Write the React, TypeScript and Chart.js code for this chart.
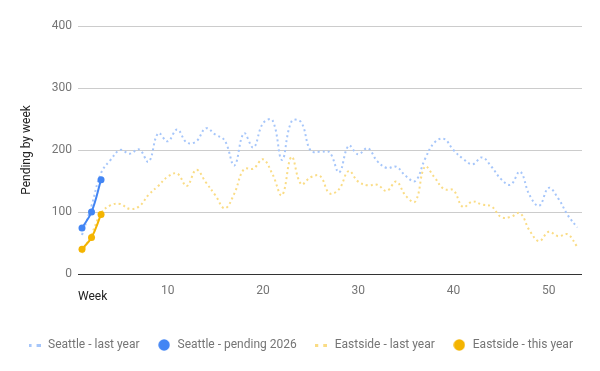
import React, { useEffect, useRef } from "react";
import { Chart, registerables } from "chart.js";

Chart.register(...registerables);

const weeks = [1,2,3,4,5,6,7,8,9,10,11,12,13,14,15,16,17,18,19,20,21,22,23,24,25,26,27,28,29,30,31,32,33,34,35,36,37,38,39,40,41,42,43,44,45,46,47,48,49,50,51,52,53];
const seattleLastYear = [63,110,163,184,200,194,201,181,227,214,233,212,214,235,225,215,175,227,204,243,248,184,246,245,199,197,196,164,207,193,203,182,171,173,158,150,185,212,218,200,186,177,188,173,153,144,165,127,110,139,122,95,75];
const seattle2026 = [74,100,152];
const eastsideLastYear = [34,64,98,111,113,105,109,128,142,157,162,142,168,148,127,106,130,169,170,185,161,127,189,145,156,158,130,137,166,149,143,144,134,149,126,117,173,156,137,135,108,117,112,109,92,92,98,70,53,68,61,64,44];
const eastsideThisYear = [40,59,96];
const xTicks = [10,20,30,40,50];
const yTicks = [0,100,200,300,400];
const seriesNames = ["Seattle - last year", "Seattle - pending 2026", "Eastside - last year", "Eastside - this year"];

const BLUE = "#4285f4";
const BLUE_LIGHT = "#a6c6fa";
const YELLOW = "#f4b400";
const YELLOW_LIGHT = "#fadc85";

function pts(vals: number[]) {
  return vals.map((v, i) => ({ x: weeks[i], y: v }));
}

function dotIcon(color: string) {
  const c = document.createElement("canvas");
  c.width = 12;
  c.height = 3;
  const g = c.getContext("2d")!;
  g.fillStyle = color;
  g.fillRect(0, 0, 3, 3);
  g.fillRect(8, 0, 4, 3);
  return c;
}

function circleIcon(color: string) {
  const c = document.createElement("canvas");
  c.width = 12;
  c.height = 12;
  const g = c.getContext("2d")!;
  g.fillStyle = color;
  g.beginPath();
  g.arc(6, 6, 5.7, 0, Math.PI * 2);
  g.fill();
  return c;
}

const legendFullWidth = {
  id: "legendFullWidth",
  afterLayout(chart: any) {
    const lg = chart.legend;
    if (lg) {
      lg.left = 0;
      lg.right = chart.width;
      lg.width = chart.width;
    }
  },
};

export default function App() {
  const ref = useRef<HTMLCanvasElement>(null);
  useEffect(() => {
    const blueDots = dotIcon(BLUE_LIGHT);
    const yellowDots = dotIcon(YELLOW_LIGHT);
    const blueCircle = circleIcon(BLUE);
    const yellowCircle = circleIcon(YELLOW);
    const font = { family: "Roboto", size: 12 };
    const chart = new Chart(ref.current!, {
      type: "line",
      plugins: [legendFullWidth],
      data: {
        datasets: [
          {
            label: seriesNames[0],
            data: pts(seattleLastYear),
            borderColor: BLUE_LIGHT,
            borderWidth: 2,
            borderDash: [2, 3],
            pointRadius: 0,
            tension: 0.4,
            order: 2,
          },
          {
            label: seriesNames[1],
            data: pts(seattle2026),
            borderColor: BLUE,
            backgroundColor: BLUE,
            borderWidth: 2,
            pointRadius: 3.5,
            pointBorderWidth: 0,
            pointBackgroundColor: BLUE,
            tension: 0.4,
            order: 1,
          },
          {
            label: seriesNames[2],
            data: pts(eastsideLastYear),
            borderColor: YELLOW_LIGHT,
            borderWidth: 2,
            borderDash: [2, 3],
            pointRadius: 0,
            tension: 0.4,
            order: 2,
          },
          {
            label: seriesNames[3],
            data: pts(eastsideThisYear),
            borderColor: YELLOW,
            backgroundColor: YELLOW,
            borderWidth: 2,
            pointRadius: 3.5,
            pointBorderWidth: 0,
            pointBackgroundColor: YELLOW,
            tension: 0.4,
            order: 1,
          },
        ],
      },
      options: {
        responsive: false,
        animation: false,
        layout: { padding: { left: 0, right: 18, top: 26, bottom: 10 } },
        plugins: {
          tooltip: { enabled: false },
          legend: {
            position: "bottom",
            labels: {
              usePointStyle: true,
              pointStyleWidth: 15,
              boxWidth: 12,
              boxHeight: 8,
              padding: 17,
              color: "#757575",
              font,
              generateLabels: () => [
                { text: seriesNames[0], pointStyle: blueDots as any, fillStyle: BLUE_LIGHT, strokeStyle: BLUE_LIGHT, lineWidth: 0, datasetIndex: 0, fontColor: "#757575" },
                { text: seriesNames[1], pointStyle: blueCircle as any, fillStyle: BLUE, strokeStyle: BLUE, lineWidth: 0, datasetIndex: 1, fontColor: "#757575" },
                { text: seriesNames[2], pointStyle: yellowDots as any, fillStyle: YELLOW_LIGHT, strokeStyle: YELLOW_LIGHT, lineWidth: 0, datasetIndex: 2, fontColor: "#757575" },
                { text: seriesNames[3], pointStyle: yellowCircle as any, fillStyle: YELLOW, strokeStyle: YELLOW, lineWidth: 0, datasetIndex: 3, fontColor: "#757575" },
              ],
            },
          },
        },
        scales: {
          x: {
            type: "linear",
            min: 0.58,
            max: 53.5,
            grid: { display: false, drawTicks: false },
            border: { display: false },
            afterBuildTicks: (s: any) => {
              s.ticks = xTicks.map((v) => ({ value: v }));
            },
            afterFit: (s: any) => {
              s.height = 48;
            },
            ticks: { color: "#757575", font, padding: 10, maxRotation: 0, autoSkip: false },
            title: {
              display: true,
              text: "Week",
              align: "start",
              color: "#222222",
              font,
              padding: { top: 0, bottom: 18 },
            },
          },
          y: {
            min: 0,
            max: 400,
            afterBuildTicks: (s: any) => {
              s.ticks = yTicks.map((v) => ({ value: v }));
            },
            afterFit: (s: any) => {
              s.width = 78;
            },
            grid: {
              drawTicks: false,
              color: (c: any) => (c.tick && c.tick.value === 0 ? "#333333" : "#cccccc"),
              lineWidth: 1,
            },
            border: { display: false },
            ticks: { color: "#757575", font, padding: 6 },
            title: {
              display: true,
              text: "Pending by week",
              color: "#222222",
              font,
              padding: { top: 20, bottom: 0 },
            },
          },
        },
      } as any,
    });
    return () => chart.destroy();
  }, []);
  return (
    <div style={{ position: "fixed", left: 0, top: 0, width: 600, height: 371, background: "#fff" }}>
      <canvas ref={ref} width={600} height={371} />
    </div>
  );
}
